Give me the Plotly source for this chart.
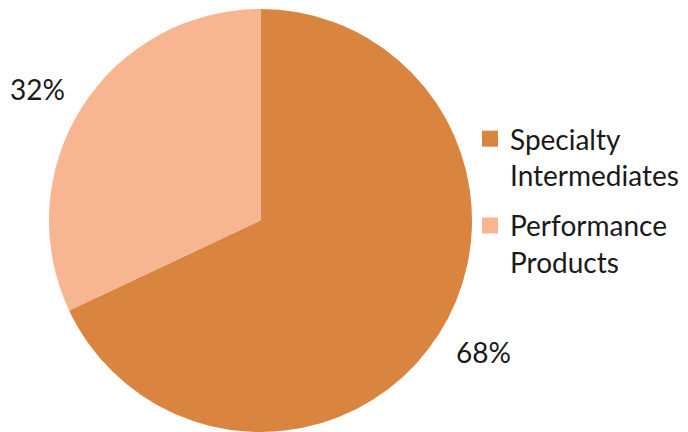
import math
import plotly.graph_objects as go

labels = ["Specialty<br>Intermediates", "Performance<br>Products"]
values = [68, 32]
colors = ["#D9843F", "#F8B592"]

W, H = 688, 432
cx, cy, r = 260.5, 220.5, 211.5
label_rx, label_ry = r + 52.5, r + 34.5
font_family = "Lato"
fsize = 28
text_color = "#1a1a1a"

fig = go.Figure()
fig.add_trace(go.Pie(
    labels=labels,
    values=values,
    sort=False,
    direction="clockwise",
    rotation=0,
    marker=dict(colors=colors, line=dict(width=0)),
    textinfo="none",
    showlegend=False,
    domain=dict(x=[(cx - r) / W, (cx + r) / W],
                y=[max(0, (H - cy - r) / H), min(1, (H - cy + r) / H)]),
    hoverinfo="label+percent",
))

# legend entries (square swatches)
for lab, col in zip(labels, colors):
    fig.add_trace(go.Scatter(
        x=[None], y=[None], mode="markers", name=lab, legendgroup=lab,
        marker=dict(symbol="square", size=16, color=col),
        hoverinfo="skip",
    ))

# percentage labels placed outside each slice at its mid angle
total = sum(values)
start = 0.0
for v in values:
    frac = v / total
    mid = (start + frac / 2) * 2 * math.pi  # clockwise from 12 o'clock
    start += frac
    px = cx + label_rx * math.sin(mid)
    py = cy - label_ry * math.cos(mid)
    fig.add_annotation(
        x=px / W, y=1 - py / H, xref="paper", yref="paper",
        text=f"{round(frac * 100)}%", showarrow=False,
        xanchor="center", yanchor="middle",
        font=dict(size=fsize, color=text_color, family=font_family),
    )

fig.update_layout(
    width=W, height=H,
    margin=dict(l=0, r=0, t=0, b=0),
    paper_bgcolor="white",
    plot_bgcolor="white",
    showlegend=True,
    xaxis=dict(visible=False),
    yaxis=dict(visible=False),
    legend=dict(
        x=470 / W, y=1 - 114 / H, xanchor="left", yanchor="top",
        font=dict(size=fsize, color=text_color, family=font_family),
        itemsizing="trace",
        itemwidth=30,
        valign="top",
        tracegroupgap=11,
        bgcolor="rgba(0,0,0,0)",
    ),
    font=dict(family=font_family),
)

fig.write_html("out.html")
